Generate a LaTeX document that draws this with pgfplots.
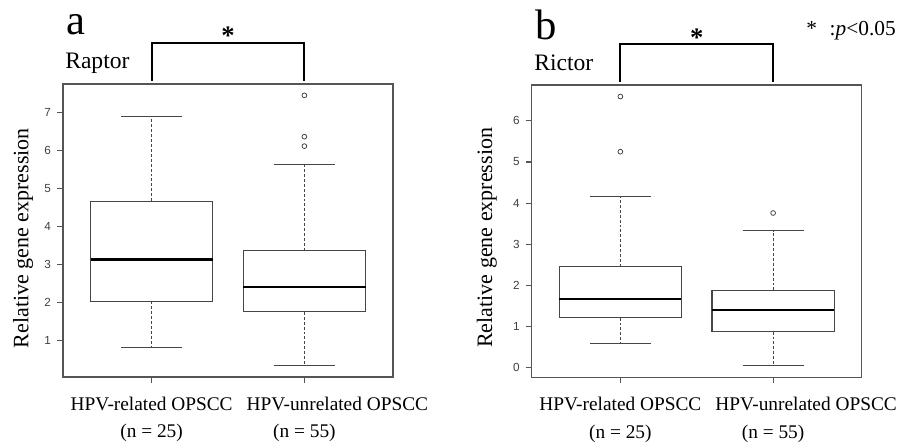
\documentclass[border=0pt]{standalone}
\usepackage{fontspec}
\setmainfont{Liberation Serif}
\newfontfamily\arialfont{Liberation Sans}
\usepackage{pgfplots}
\pgfplotsset{compat=1.18}
\usepgfplotslibrary{statistics}
\definecolor{framegray}{RGB}{85,85,85}
\definecolor{boxgray}{RGB}{70,70,70}

\pgfplotsset{
  rbox/.style={
    scale only axis,
    width=247.5pt,
    xmin=0.42, xmax=2.58,
    xtick={1,2},
    xticklabels={{HPV-related OPSCC\\(n = 25)},{\hspace*{49.5pt}HPV-unrelated OPSCC\\(n = 55)}},
    xticklabel style={align=center, font=\fontsize{14.5}{20.5}\selectfont, yshift=-7pt},
    tick pos=left, tick align=outside, major tick length=4.5pt,
    axis line style={framegray, line width=0.8pt},
    every tick/.style={framegray, line width=0.8pt},
    yticklabel style={font=\arialfont\fontsize{8.8}{10}\selectfont, text=black!75, xshift=-1pt},
    /pgf/number format/assume math mode=true,
    ylabel={Relative gene expression},
    ylabel style={font=\fontsize{16.5}{18}\selectfont, anchor=center},
    clip=false,
    boxplot/draw direction=y,
    boxplot/box extend=0.8,
    boxplot/whisker extend=0.4,
    boxplot/every box/.style={draw=boxgray, fill=white, line width=0.8pt},
    boxplot/every median/.style={black, line width=1.6pt},
    boxplot/draw/lower whisker/.code={
      \draw[boxgray, line width=0.8pt, dash pattern=on 2.2pt off 1.5pt]
        (boxplot box cs:\pgfplotsboxplotvalue{lower quartile},0.5) --
        (boxplot box cs:\pgfplotsboxplotvalue{lower whisker},0.5);
      \draw[boxgray, line width=0.8pt]
        (boxplot whisker cs:\pgfplotsboxplotvalue{lower whisker},0) --
        (boxplot whisker cs:\pgfplotsboxplotvalue{lower whisker},1);
    },
    boxplot/draw/upper whisker/.code={
      \draw[boxgray, line width=0.8pt, dash pattern=on 2.2pt off 1.5pt]
        (boxplot box cs:\pgfplotsboxplotvalue{upper quartile},0.5) --
        (boxplot box cs:\pgfplotsboxplotvalue{upper whisker},0.5);
      \draw[boxgray, line width=0.8pt]
        (boxplot whisker cs:\pgfplotsboxplotvalue{upper whisker},0) --
        (boxplot whisker cs:\pgfplotsboxplotvalue{upper whisker},1);
    },
  },
  outl/.style={mark=o, mark size=1.8pt, mark options={boxgray, line width=0.6pt}},
}

\begin{document}
\begin{tikzpicture}
\path[use as bounding box] (0pt,0pt) rectangle (681.75pt,332.25pt);

% panel a: Raptor
\begin{axis}[rbox,
  at={(47.25pt,49.5pt)}, anchor=south west,
  height=219.75pt,
  ymin=0.03, ymax=7.76,
  ytick={1,2,...,7},
  ylabel style={at={(axis description cs:-0.121,0.474)}},
]
\addplot[boxplot prepared={draw position=1,
  lower whisker=0.82, lower quartile=2.03, median=3.13,
  upper quartile=4.67, upper whisker=6.91}, outl] coordinates {};
\addplot[boxplot prepared={draw position=2,
  lower whisker=0.34, lower quartile=1.75, median=2.41,
  upper quartile=3.36, upper whisker=5.63}, outl]
  table[row sep=\\, y index=0] {v\\7.46\\6.37\\6.12\\};
\draw[line width=1.5pt] (axis cs:1,7.84) -- (axis cs:1,8.85) -- (axis cs:2,8.85) -- (axis cs:2,7.84);
\node[font=\fontsize{20}{22}\selectfont\bfseries, anchor=base] at (axis cs:1.5,8.79) {*};
\end{axis}

% panel b: Rictor
\begin{axis}[rbox,
  at={(398.8pt,49.3pt)}, anchor=south west,
  height=219.2pt,
  ymin=-0.23, ymax=6.87,
  ytick={0,1,...,6},
  ylabel style={at={(axis description cs:-0.136,0.477)}},
]
\addplot[boxplot prepared={draw position=1,
  lower whisker=0.59, lower quartile=1.22, median=1.67,
  upper quartile=2.45, upper whisker=4.15}, outl]
  table[row sep=\\, y index=0] {v\\6.59\\5.25\\};
\addplot[boxplot prepared={draw position=2,
  lower whisker=0.06, lower quartile=0.88, median=1.40,
  upper quartile=1.88, upper whisker=3.33}, outl]
  table[row sep=\\, y index=0] {v\\3.76\\};
\draw[line width=1.5pt] (axis cs:1,6.94) -- (axis cs:1,7.87) -- (axis cs:2,7.87) -- (axis cs:2,6.94);
\node[font=\fontsize{20}{22}\selectfont\bfseries, anchor=base] at (axis cs:1.5,7.81) {*};
\end{axis}

% panel letters, titles and key
\node[anchor=base west, inner sep=0pt, font=\fontsize{32}{34}\selectfont] at (49.5pt,306pt) {a};
\node[anchor=base west, inner sep=0pt, font=\fontsize{17.7}{20}\selectfont] at (48.75pt,281pt) {Raptor};
\node[anchor=base west, inner sep=0pt, font=\fontsize{32}{34}\selectfont] at (401.25pt,302.25pt) {b};
\node[anchor=base west, inner sep=0pt, font=\fontsize{17.7}{20}\selectfont] at (400.5pt,279pt) {Rictor};
\node[anchor=base west, inner sep=0pt, font=\fontsize{16}{18}\selectfont] at (604.5pt,305.25pt) {*\hspace{0.6em}:\textit{p}<0.05};
\end{tikzpicture}
\end{document}
